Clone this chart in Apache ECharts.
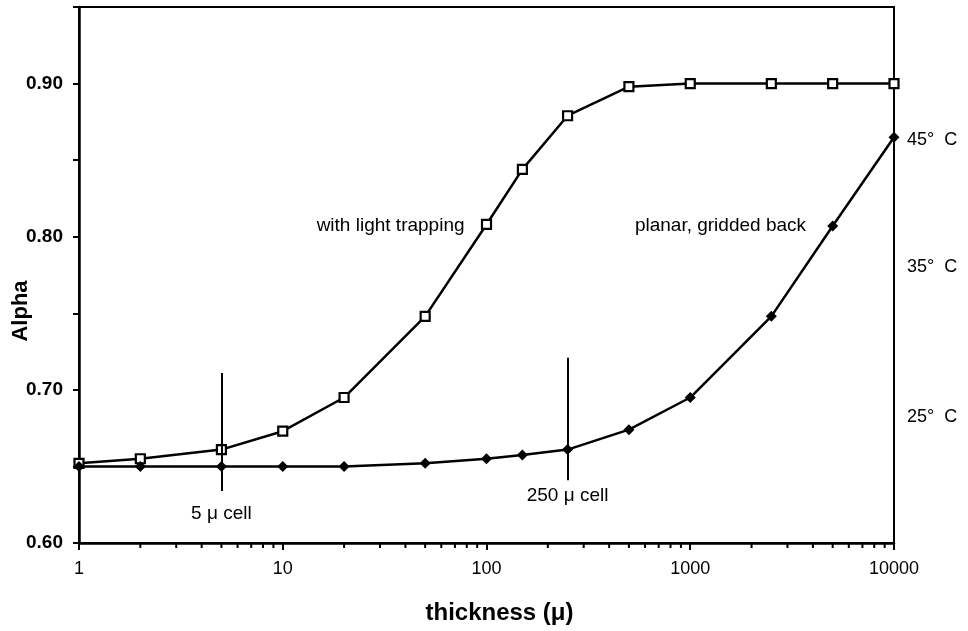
<!DOCTYPE html>
<html>
<head>
<meta charset="utf-8">
<script src="https://cdn.jsdelivr.net/npm/echarts@6/dist/echarts.min.js"></script>
<style>
  html, body { margin: 0; padding: 0; background: #fff; }
  #chart { width: 968px; height: 631px; }
</style>
</head>
<body>
<div id="chart"></div>
<script>
// thickness in microns
var thickness = [1, 2, 5, 10, 20, 50, 100, 150, 250, 500, 1000, 2500, 5000, 10000];
var lightTrapping = [0.652, 0.655, 0.661, 0.673, 0.695, 0.748, 0.808, 0.844, 0.879, 0.898, 0.900, 0.900, 0.900, 0.900];
var planarBack = [0.650, 0.650, 0.650, 0.650, 0.650, 0.652, 0.655, 0.6575, 0.661, 0.674, 0.695, 0.748, 0.807, 0.865];

var xTickLabels = [1, 10, 100, 1000, 10000];
var minorTickValues = [2, 3, 4, 5, 6, 7, 8, 9, 20, 30, 40, 50, 60, 70, 80, 90,
  200, 300, 400, 500, 600, 700, 800, 900, 2000, 3000, 4000, 5000, 6000, 7000, 8000, 9000];
var yTickLabels = ['0.60', '0.70', '0.80', '0.90'];

// cell thickness markers: [x, yFrom, yTo, label, labelY]
var cellMarks = [
  [5, 0.711, 0.634, '5 \u03bc cell', 0.619],
  [250, 0.721, 0.641, '250 \u03bc cell', 0.631]
];
var tempLabels = [['45\u00b0  C', 0.863], ['35\u00b0  C', 0.780], ['25\u00b0  C', 0.682]];
var curveLabels = [['with light trapping', 78, 0.807], ['planar, gridded back', 3700, 0.807]];

var font = '"Liberation Sans", Arial, Helvetica, sans-serif';

function pairs(xs, ys) {
  return xs.map(function (x, i) { return [x, ys[i]]; });
}

var chart = echarts.init(document.getElementById('chart'));

var markLines = cellMarks.map(function (c) {
  return [{ coord: [c[0], c[1]] }, { coord: [c[0], c[2]] }];
});
var markPts = [];
cellMarks.forEach(function (c) {
  markPts.push({ coord: [c[0], c[4]], label: { formatter: c[3], align: 'center' } });
});
curveLabels.forEach(function (c) {
  markPts.push({ coord: [c[1], c[2]], label: { formatter: c[0], align: 'right' } });
});
tempLabels.forEach(function (t) {
  markPts.push({ coord: [10000, t[1]], label: { formatter: t[0], align: 'left', fontSize: 18, offset: [13, 0] } });
});

var option = {
  backgroundColor: '#fff',
  animation: false,
  textStyle: { fontFamily: font },
  grid: {
    left: 79, right: 74, top: 7, bottom: 88,
    outerBoundsMode: 'none',
    containLabel: false,
    show: true, borderColor: '#000', borderWidth: 2
  },
  // y-axis title, drawn apart so it can sit a little below the middle as in the original
  graphic: [{
    type: 'text',
    x: 21,
    y: 311,
    rotation: Math.PI / 2,
    style: {
      text: 'Alpha',
      fill: '#000',
      font: 'bold 22px ' + font,
      align: 'center',
      verticalAlign: 'middle'
    }
  }],
  xAxis: {
    type: 'log',
    logBase: 10,
    min: 1,
    max: 10000,
    name: 'thickness (\u03bc)',
    nameLocation: 'middle',
    nameGap: 58,
    nameTextStyle: { fontSize: 24, fontWeight: 'bold', color: '#000', fontFamily: font, padding: [0, 0, 0, 26] },
    axisLine: { lineStyle: { color: '#000', width: 2.5 } },
    axisTick: { show: true, length: 7, lineStyle: { color: '#000', width: 2 } },
    axisLabel: {
      color: '#000', fontSize: 18, margin: 17, fontFamily: font,
      formatter: function (v) { return xTickLabels.indexOf(v) >= 0 ? String(v) : ''; }
    },
    splitLine: { show: false },
    minorTick: { show: false }
  },
  yAxis: {
    type: 'value',
    min: 0.6,
    max: 0.95,
    interval: 0.05,
    axisLine: { show: true, lineStyle: { color: '#000', width: 2.5 } },
    axisTick: { show: true, length: 6, lineStyle: { color: '#000', width: 2 } },
    axisLabel: {
      color: '#000', fontSize: 19, fontWeight: 'bold', margin: 16, fontFamily: font,
      formatter: function (v) {
        var s = v.toFixed(2);
        return yTickLabels.indexOf(s) >= 0 ? s : '';
      }
    },
    splitLine: { show: false }
  },
  series: [
    {
      name: 'with light trapping',
      type: 'line',
      data: pairs(thickness, lightTrapping),
      symbol: 'rect',
      symbolSize: 9,
      itemStyle: { color: '#fff', borderColor: '#000', borderWidth: 2.2 },
      lineStyle: { color: '#000', width: 2.5 },
      z: 3
    },
    {
      name: 'planar, gridded back',
      type: 'line',
      data: pairs(thickness, planarBack),
      symbol: 'diamond',
      symbolSize: 11,
      itemStyle: { color: '#000' },
      lineStyle: { color: '#000', width: 2.5 },
      z: 4,
      markLine: {
        silent: true,
        symbol: 'none',
        label: { show: false },
        lineStyle: { color: '#000', width: 2, type: 'solid' },
        data: markLines
      },
      markPoint: {
        silent: true,
        symbol: 'circle',
        symbolSize: 0,
        label: { show: true, color: '#000', fontSize: 19, fontFamily: font, position: 'inside' },
        data: markPts
      }
    },
    {
      // minor ticks of the log axis at 2..9 of each decade
      type: 'custom',
      silent: true,
      clip: false,
      data: minorTickValues.map(function (v) { return [v, 0.6]; }),
      renderItem: function (params, api) {
        var p = api.coord([api.value(0), api.value(1)]);
        return {
          type: 'line',
          shape: { x1: p[0], y1: p[1], x2: p[0], y2: p[1] + 5 },
          style: { stroke: '#000', lineWidth: 2 }
        };
      },
      z: 5
    }
  ]
};

chart.setOption(option);
</script>
</body>
</html>
